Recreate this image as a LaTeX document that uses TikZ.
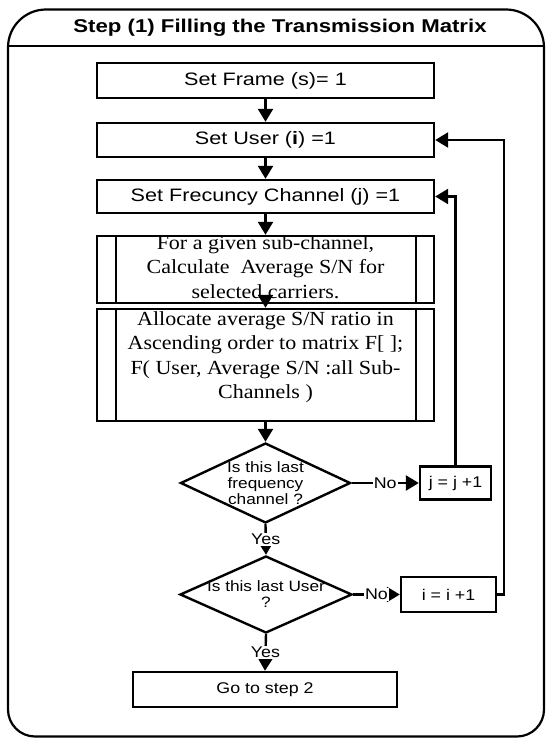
\documentclass[tikz,border=0pt]{standalone}
\usepackage{fontspec}
\usetikzlibrary{arrows.meta,shapes.geometric}
\newfontfamily\boxsans{Liberation Sans}[FakeStretch=1.2]
\newfontfamily\smallsans{Liberation Sans}[FakeStretch=1.15]
\newfontfamily\boxserif{Liberation Serif}[FakeStretch=1.1]

\begin{document}
\begin{tikzpicture}[x=1pt,y=-1pt,line width=2.4pt,
  stepbox/.style={draw,line width=2.4pt,inner sep=0pt,minimum width=337pt,
    font=\boxsans\fontsize{18}{22}\selectfont},
  procbox/.style={draw,line width=2.4pt,inner sep=0pt,minimum width=337pt},
  prostext/.style={align=center,inner sep=0pt,
    font=\boxserif\fontsize{20}{24.5}\selectfont},
  smallbox/.style={draw,line width=2.4pt,inner sep=0pt,
    font=\smallsans\fontsize{15.5}{18}\selectfont},
  decision/.style={draw,diamond,line width=2.4pt,inner sep=0pt},
  dectext/.style={align=center,inner sep=0pt,
    font=\smallsans\fontsize{15}{16}\selectfont},
  flowlabel/.style={fill=white,inner sep=1pt,
    font=\smallsans\fontsize{15.5}{18}\selectfont},
  flow/.style={line width=2.4pt,-{Triangle[width=15pt,length=13pt]}},
  outline/.style={line width=2.2pt}]
\useasboundingbox (0,0) rectangle (546,738);

% outer frame with header band
\draw[outline,rounded corners=38pt] (8,380) -- (8,9.5) -- (544,9.5) -- (544,380);
\draw[outline,rounded corners=27pt] (8,380) -- (8,736.5) -- (544,736.5) -- (544,380);
\draw[outline] (8,46) -- (544,46);
\node[font=\boxsans\bfseries\fontsize{18.5}{22}\selectfont] (title) at (280,28)
  {Step (1) Filling the Transmission Matrix};

% main column
\node[stepbox,minimum height=35pt] (fr) at (265.5,80.5) {Set Frame (s)= 1};
\node[stepbox,minimum height=34pt] (us) at (265.5,140) {Set User (\textbf{i}) =1};
\node[stepbox,minimum height=33pt] (fc) at (265.5,196.5) {Set Frecuncy Channel (j) =1};

\node[procbox,minimum height=67pt] (b1) at (265.5,269.5) {};
\draw ([xshift=20pt]b1.north west) -- ([xshift=20pt]b1.south west);
\draw ([xshift=-19pt]b1.north east) -- ([xshift=-19pt]b1.south east);
\node[prostext] (b1t) at (265.5,267) {For a given sub-channel,\\Calculate~ Average S/N for\\selected carriers.};

\node[procbox,minimum height=112pt] (b2) at (265.5,365) {};
\draw ([xshift=20pt]b2.north west) -- ([xshift=20pt]b2.south west);
\draw ([xshift=-19pt]b2.north east) -- ([xshift=-19pt]b2.south east);
\node[prostext] (b2t) at (265.5,357) {Allocate average S/N ratio in\\Ascending order to matrix F[ ];\\F( User, Average S/N :all Sub-\\Channels )};

\node[decision,minimum width=170pt,minimum height=80pt] (d1) at (265.5,483) {};
\node[dectext] (d1t) at (265.5,483) {Is this last\\frequency\\channel ?};
\node[smallbox,minimum width=71pt,minimum height=33pt] (jb) at (455.5,483) {j = j +1};

\node[decision,minimum width=172pt,minimum height=77pt] (d2) at (266,594.5) {};
\node[dectext] (d2t) at (266,594) {Is this last User\\?};
\node[smallbox,minimum width=95pt,minimum height=35pt] (ib) at (448.5,594.5) {i = i +1};

\node[smallbox,minimum width=264pt,minimum height=35pt] (go) at (265,689.5) {Go to step 2};

% connectors
\draw[flow] (fr) -- (us);
\draw[flow] (us) -- (fc);
\draw[flow] (fc) -- (b1);
\draw[flow] ([yshift=8pt]b1.south) -- (b2.north);
\draw[flow] (b2) -- (d1);
\draw[flow] (d1.east) -- node[flowlabel] (no1) {No} (jb.west);
\draw[flow] (d1.south) -- node[flowlabel] (yes1) {Yes} (d2.north);
\draw[flow] (d2.east) -- node[flowlabel] (no2) {No} (ib.west);
\draw[flow] (d2.south) -- node[flowlabel] (yes2) {Yes} (go.north);
\draw[flow] (jb.north) |- (fc.east);
\draw[flow] (ib.east) -- ++(7,0) |- (us.east);
\end{tikzpicture}
\end{document}
